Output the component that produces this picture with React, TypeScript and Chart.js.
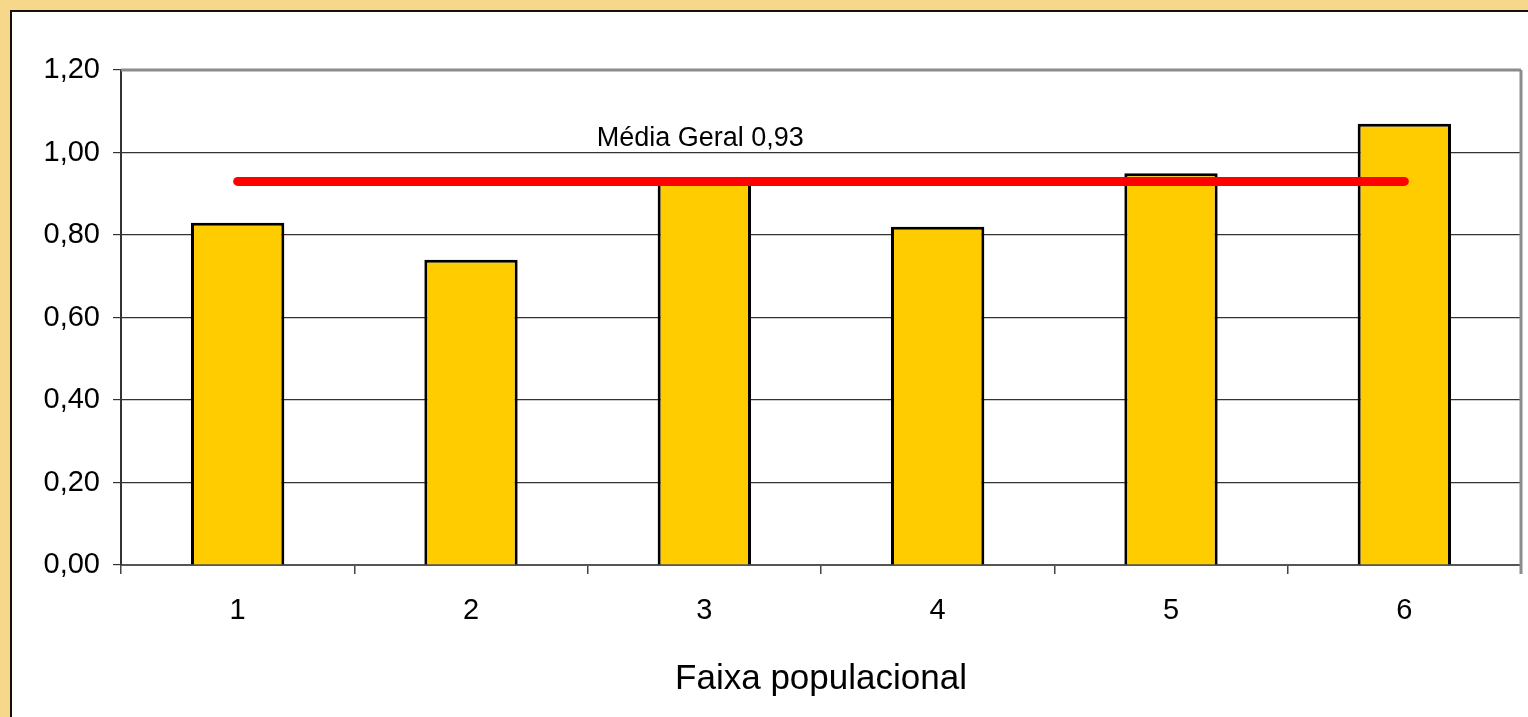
import React, { useEffect, useRef } from "react";
import { Chart, registerables } from "chart.js";

Chart.register(...registerables);

const categories = ["1", "2", "3", "4", "5", "6"];
const barValues = [0.83, 0.74, 0.93, 0.82, 0.95, 1.07];
const meanValue = 0.93;
const meanValues = categories.map(() => meanValue);
const meanLabel = "Média Geral 0,93";
const xTitle = "Faixa populacional";
const yMin = 0;
const yMax = 1.2;
const yStep = 0.2;

const FONT = "'Liberation Sans', Arial, sans-serif";

const plotFrame = {
  id: "plotFrame",
  afterDatasetsDraw(chart: any) {
    const { ctx, chartArea } = chart;
    ctx.save();
    ctx.strokeStyle = "#8c8c8c";
    ctx.lineWidth = 3;
    ctx.beginPath();
    ctx.moveTo(chartArea.left, chartArea.top);
    ctx.lineTo(chartArea.right, chartArea.top);
    ctx.moveTo(chartArea.right, chartArea.top);
    ctx.lineTo(chartArea.right, chartArea.bottom + 9);
    ctx.stroke();
    // mean label
    const x = chart.scales.x.getPixelForValue(2);
    const y = chart.scales.y.getPixelForValue(1.02);
    ctx.fillStyle = "#000";
    ctx.font = `27px ${FONT}`;
    ctx.textAlign = "center";
    ctx.textBaseline = "alphabetic";
    ctx.fillText(meanLabel, x - 4, y + 2);
    ctx.restore();
  },
};

export default function App() {
  const ref = useRef<HTMLCanvasElement>(null);
  useEffect(() => {
    if (!ref.current) return;
    const chart = new Chart(ref.current, {
      type: "bar",
      data: {
        labels: categories,
        datasets: [
          {
            type: "line",
            label: "Média",
            data: meanValues,
            borderColor: "#ff0000",
            borderWidth: 9,
            borderCapStyle: "round",
            pointRadius: 0,
            fill: false,
            order: 0,
          } as any,
          {
            type: "bar",
            label: "Valor",
            data: barValues,
            backgroundColor: "#ffcc00",
            borderColor: "#000000",
            borderWidth: 3,
            categoryPercentage: 1,
            barPercentage: 0.4,
            order: 1,
          },
        ],
      },
      options: {
        responsive: false,
        animation: false,
        layout: { padding: { left: 0, top: 70, right: 7, bottom: 0 } },
        plugins: {
          legend: { display: false },
          tooltip: { enabled: false },
        },
        scales: {
          x: {
            offset: true,
            grid: {
              offset: true,
              drawOnChartArea: false,
              drawTicks: true,
              tickLength: 9,
              color: "#444",
              lineWidth: 1.5,
            },
            border: { display: true, color: "#555", width: 2 },
            ticks: {
              color: "#000",
              font: { family: FONT, size: 29 },
              padding: 20,
            },
            title: {
              display: true,
              text: xTitle,
              color: "#000",
              font: { family: FONT, size: 35 },
              padding: { top: 18, bottom: 17 },
            },
            afterFit: (scale: any) => {
              scale.height = 152;
            },
          },
          y: {
            min: yMin,
            max: yMax,
            ticks: {
              stepSize: yStep,
              color: "#000",
              font: { family: FONT, size: 29 },
              padding: 13,
              callback: (v: any) => Number(v).toFixed(2).replace(".", ","),
            },
            grid: {
              color: (c: any) => (c.tick && Math.abs(c.tick.value - yMax) < 1e-6 ? "rgba(0,0,0,0)" : "#333"),
              tickColor: "#333",
              lineWidth: 1.2,
              tickLength: 8,
            },
            border: { display: true, color: "#333", width: 2 },
            afterFit: (scale: any) => {
              scale.width = 121;
            },
          },
        },
      },
      plugins: [plotFrame],
    });
    return () => chart.destroy();
  }, []);

  return (
    <div
      style={{
        position: "fixed",
        left: 0,
        top: 0,
        width: 1528,
        height: 717,
        background: "#f7d88b",
        overflow: "hidden",
      }}
    >
      <div
        style={{
          position: "absolute",
          left: 10,
          top: 10,
          width: 1540,
          height: 740,
          background: "#ffffff",
          borderLeft: "2px solid #111",
          borderTop: "2px solid #111",
        }}
      />
      <canvas
        ref={ref}
        width={1528}
        height={717}
        style={{ position: "absolute", left: 0, top: 0, width: 1528, height: 717 }}
      />
    </div>
  );
}
